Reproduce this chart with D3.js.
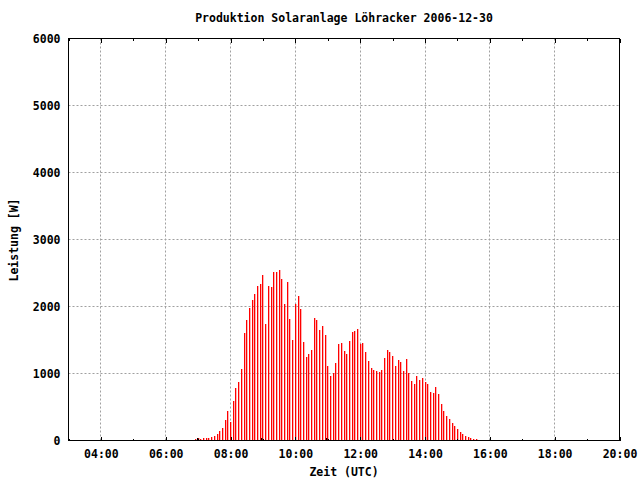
<!DOCTYPE html>
<html><head><meta charset="utf-8">
<script src="https://cdn.jsdelivr.net/npm/d3@7"></script>
<style>
body{margin:0;background:#fff}
text{font-family:"DejaVu Sans Mono",monospace;font-weight:bold;font-size:11.5px;fill:#000}
</style>
</head><body><svg id="c" width="640" height="480"></svg>
<script>
const title = "Produktion Solaranlage Löhracker 2006-12-30";
const xLabel = "Zeit (UTC)";
const yLabel = "Leistung [W]";
const day = "2006-12-30";
const xDomain = ["03:00", "20:00"];
const yTicks = [0, 1000, 2000, 3000, 4000, 5000, 6000];
const startTime = "06:55";
const stepMinutes = 5;
const power = [
  20,30,20,30,30,35,45,60,95,140,180,300,435,270,585,780,870,1065,1605,1800,1985,
  2100,2190,2310,2340,2475,1740,2310,2295,2520,2520,2550,2415,2040,2370,1815,1500,2040,2160,1965,1470,1245,
  1290,1350,1830,1800,1650,1710,1575,1110,960,1005,1155,1440,1455,1335,1290,1485,1620,1635,1665,1440,1455,1320,
  1185,1080,1050,1035,1020,1050,1230,1350,1320,1260,1110,1200,1170,1035,1215,1005,885,840,960,900,930,
  870,840,720,705,795,690,540,435,360,315,255,210,165,120,90,60,45,30,20,20
];
const markerTimes = ["07:00", "09:00", "11:00"];
const markerValues = [30, 30, 30];

const parse = d3.utcParse("%Y-%m-%d %H:%M");
const t0 = parse(day + " " + startTime);
const samples = power.map((v, i) => ({t: d3.utcMinute.offset(t0, i * stepMinutes), v}));
const markers = markerTimes.map((s, i) => ({t: parse(day + " " + s), v: markerValues[i]}));

const L = 68.5, R = 619.5, T = 38.5, B = 440.5;
const svg = d3.select("#c");
const x = d3.scaleUtc().domain(xDomain.map(s => parse(day + " " + s))).range([L, R]);
const y = d3.scaleLinear().domain([0, 6000]).range([B, T]);

const majorX = x.ticks(d3.utcHour.every(2));
const minorX = x.ticks(d3.utcHour.every(1)).filter(d => d.getUTCHours() % 2 === 1);

// grid
const grid = svg.append("g").attr("stroke", "#a0a0a0").attr("stroke-width", 1).attr("stroke-dasharray", "2,2");
grid.selectAll("line.gx").data(majorX.filter(d => x(d) > L + 1 && x(d) < R - 1)).join("line")
  .attr("x1", d => Math.floor(x(d)) + 0.5).attr("x2", d => Math.floor(x(d)) + 0.5)
  .attr("y1", T).attr("y2", B);
grid.selectAll("line.gy").data(yTicks.filter(v => v > 0 && v < 6000)).join("line")
  .attr("y1", d => Math.floor(y(d)) + 0.5).attr("y2", d => Math.floor(y(d)) + 0.5)
  .attr("x1", L).attr("x2", R);

// bars (impulses)
svg.append("g").selectAll("rect").data(samples).join("rect")
  .attr("x", d => Math.floor(x(d.t))).attr("width", 1.3)
  .attr("y", d => Math.round(y(d.v))).attr("height", d => Math.round(y(0)) - Math.round(y(d.v)))
  .attr("fill", "#ff0000");

svg.append("g").selectAll("rect").data(markers).join("rect")
  .attr("x", d => Math.floor(x(d.t)) - 1).attr("width", 1.3)
  .attr("y", d => Math.round(y(d.v))).attr("height", d => Math.round(y(0)) - Math.round(y(d.v)))
  .attr("fill", "#000");

// frame
svg.append("rect").attr("x", L).attr("y", T).attr("width", R - L).attr("height", B - T)
  .attr("fill", "none").attr("stroke", "#000").attr("stroke-width", 1).attr("shape-rendering", "crispEdges");

// x axes
const fmt = d3.utcFormat("%H:%M");
const xb = svg.append("g").attr("transform", `translate(0,${B})`)
  .call(d3.axisBottom(x).tickValues(majorX).tickFormat(fmt).tickSize(-4).tickPadding(9));
xb.select(".domain").remove();
xb.selectAll("text").attr("font-family", null).attr("font-size", null);
svg.append("g").attr("transform", `translate(0,${B})`)
  .call(d3.axisBottom(x).tickValues(minorX).tickFormat("").tickSize(-2))
  .select(".domain").remove();
svg.append("g").attr("transform", `translate(0,${T})`)
  .call(d3.axisTop(x).tickValues(majorX).tickFormat("").tickSize(-4))
  .select(".domain").remove();
svg.append("g").attr("transform", `translate(0,${T})`)
  .call(d3.axisTop(x).tickValues(minorX).tickFormat("").tickSize(-2))
  .select(".domain").remove();

// y axis labels
const ya = svg.append("g").attr("transform", `translate(${L},0)`)
  .call(d3.axisLeft(y).tickValues(yTicks).tickFormat(d3.format("d")).tickSize(0).tickPadding(8));
ya.select(".domain").remove();
ya.selectAll("text").attr("font-family", null).attr("font-size", null);

svg.selectAll(".tick line").attr("shape-rendering", "crispEdges");

// titles
svg.append("text").attr("x", 344).attr("y", 22).attr("text-anchor", "middle").text(title);
svg.append("text").attr("x", 344).attr("y", 476).attr("text-anchor", "middle").text(xLabel);
svg.append("text").attr("transform", "translate(18,240) rotate(-90)").attr("text-anchor", "middle").text(yLabel);
</script></body></html>
